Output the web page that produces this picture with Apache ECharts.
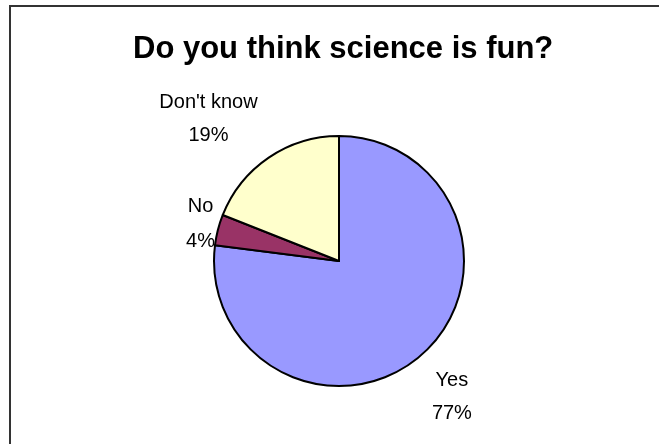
<!DOCTYPE html>
<html>
<head>
<meta charset="utf-8">
<script src="https://cdn.jsdelivr.net/npm/echarts@6/dist/echarts.min.js"></script>
<style>
  html, body { margin: 0; padding: 0; background: #fff; }
  #chart { width: 659px; height: 444px; }
</style>
</head>
<body>
<div id="chart"></div>
<script>
// Survey answers and their shares (percent)
const answers = ['Yes', 'No', "Don't know"];
const shares = [77, 4, 19];
const sliceColors = ['#9999FF', '#993366', '#FFFFCC'];

const chart = echarts.init(document.getElementById('chart'), null, { renderer: 'canvas' });

// Per-label nudges (px) applied after the pie's outside label layout
const labelNudge = [[12, 27], [7, -1], [-44, -22]];

const labelFont = {
  fontFamily: 'Liberation Sans, Arial, sans-serif',
  fontSize: 20,
  color: '#000',
  align: 'center'
};

chart.setOption({
  backgroundColor: '#ffffff',
  animation: false,
  title: {
    text: 'Do you think science is fun?',
    left: 128,
    top: 29,
    textStyle: {
      fontFamily: 'Liberation Sans, Arial, sans-serif',
      fontSize: 31,
      fontWeight: 'bold',
      color: '#000'
    }
  },
  graphic: [{
    type: 'rect',
    shape: { x: 10, y: 6, width: 700, height: 500 },
    style: { fill: 'none', stroke: '#333', lineWidth: 2 },
    silent: true
  }],
  series: [{
    type: 'pie',
    center: [339, 261],
    radius: 125,
    startAngle: 90,
    clockwise: true,
    avoidLabelOverlap: false,
    data: answers.map((name, i) => ({
      name,
      value: shares[i],
      itemStyle: { color: sliceColors[i] }
    })),
    itemStyle: { borderColor: '#000', borderWidth: 2 },
    label: {
      show: true,
      position: 'outside',
      distanceToLabelLine: 5,
      formatter: p => {
        const s = p.dataIndex === 1 ? 'b' : 'a';
        return '{' + s + '|' + p.name + '}\n{' + s + '|' + p.value + '%}';
      },
      rich: {
        a: Object.assign({ lineHeight: 33 }, labelFont),
        b: Object.assign({ lineHeight: 35 }, labelFont)
      }
    },
    labelLine: { show: false, length: 20, length2: 0 },
    labelLayout: p => ({
      align: 'center',
      dx: labelNudge[p.dataIndex][0],
      dy: labelNudge[p.dataIndex][1]
    }),
    emphasis: { disabled: true }
  }]
});
</script>
</body>
</html>
